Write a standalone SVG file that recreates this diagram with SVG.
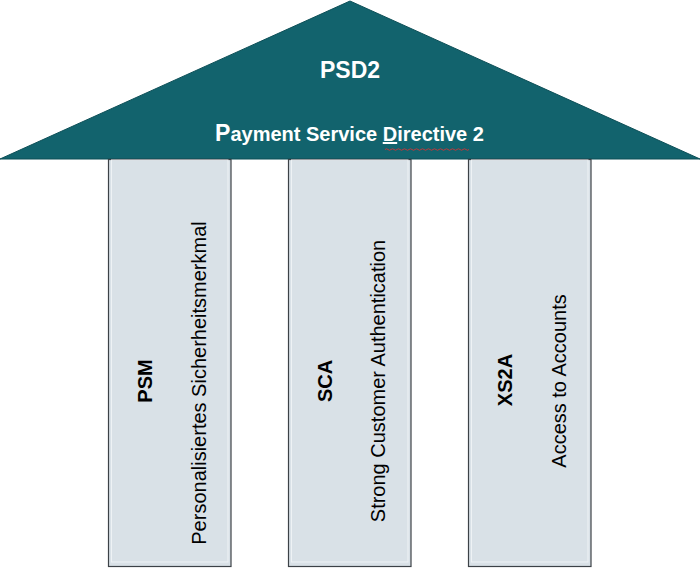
<svg xmlns="http://www.w3.org/2000/svg" width="700" height="568" viewBox="0 0 700 568">
  <style>
    .roof { fill: #12636d; stroke: #0d4f57; stroke-width: 1; }
    .pillar { fill: #d9e1e7; stroke: #3c4247; stroke-width: 1.2; }
    .inner { fill: none; stroke: #eef2f5; stroke-width: 1; }
    .roofText { font-family: "Liberation Sans", Arial, sans-serif; font-weight: bold; fill: #ffffff; text-anchor: middle; }
    .abbr { font-family: "Liberation Sans", Arial, sans-serif; font-weight: bold; font-size: 20px; fill: #000000; text-anchor: middle; }
    .desc { font-family: "Liberation Sans", Arial, sans-serif; font-size: 20px; fill: #000000; text-anchor: middle; }
  </style>
  <rect width="700" height="568" fill="#ffffff"/>
  <g id="roof">
    <polygon class="roof" points="0,159 350,1 700,159"/>
    <text class="roofText" x="350" y="78" font-size="23">PSD2</text>
    <text class="roofText" x="349.5" y="141" font-size="20"><tspan font-size="23">P</tspan>ayment Service <tspan text-decoration="underline">D</tspan>irective 2</text>
    <path d="M385,149.5 q1.5,-1.5 3,0 t3,0 t3,0 t3,0 t3,0 t3,0 t3,0 t3,0 t3,0 t3,0 t3,0 t3,0 t3,0 t3,0 t3,0 t3,0 t3,0 t3,0 t3,0 t3,0 t3,0 t3,0 t3,0 t3,0 t3,0 t3,0 t3,0 t3,0" fill="none" stroke="#c0393b" stroke-width="1"/>
  </g>
  <g id="pillar-psm">
    <rect class="pillar" x="108.5" y="159.5" width="122.5" height="407"/>
    <rect class="inner" x="111.5" y="160" width="116.5" height="402"/>
    <text class="abbr" transform="translate(152,381) rotate(-90)">PSM</text>
    <text class="desc" transform="translate(206,383) rotate(-90)">Personalisiertes Sicherheitsmerkmal</text>
  </g>
  <g id="pillar-sca">
    <rect class="pillar" x="288.5" y="159.5" width="122.5" height="407"/>
    <rect class="inner" x="291.5" y="160" width="116.5" height="402"/>
    <text class="abbr" transform="translate(332,381) rotate(-90)">SCA</text>
    <text class="desc" transform="translate(385,381) rotate(-90)">Strong Customer Authentication</text>
  </g>
  <g id="pillar-xs2a">
    <rect class="pillar" x="468.5" y="159.5" width="122.5" height="407"/>
    <rect class="inner" x="471.5" y="160" width="116.5" height="402"/>
    <text class="abbr" transform="translate(512,380) rotate(-90)">XS2A</text>
    <text class="desc" transform="translate(566,381) rotate(-90)">Access to Accounts</text>
  </g>
  <g id="connectors"/>
</svg>
